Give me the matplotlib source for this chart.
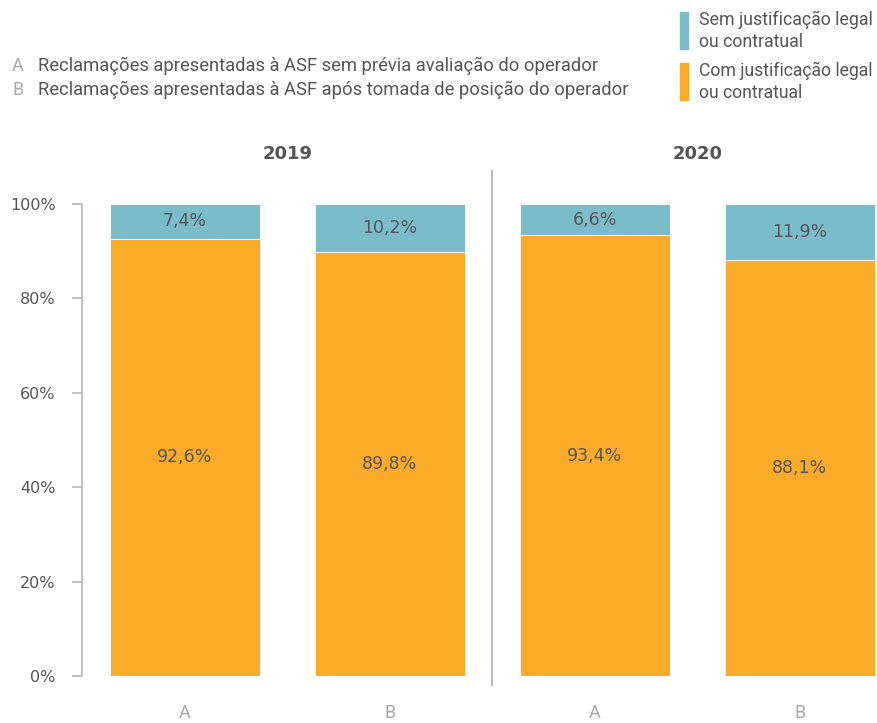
import numpy as np
import matplotlib.pyplot as plt

# Dados
anos = ['2019', '2020']
categorias = ['A', 'B', 'A', 'B']
sem_justificacao = [7.4, 10.2, 6.6, 11.9]
com_justificacao = [92.6, 89.8, 93.4, 88.1]
legenda_ab = ['Reclamações apresentadas à ASF sem prévia avaliação do operador',
              'Reclamações apresentadas à ASF após tomada de posição do operador']
series = ['Sem justificação legal\nou contratual', 'Com justificação legal\nou contratual']

cor_sem = '#7bbccb'
cor_com = '#f9ab29'
cinza_txt = '#555555'
cinza_eixo = '#b5b5b8'
fonte_leg = 'Roboto'

W, H = 877, 723
fig = plt.figure(figsize=(W / 100, H / 100), dpi=100)
ax = fig.add_axes([82 / W, (H - 676) / H, (W - 82) / W, (676 - 204) / H])

x = np.arange(len(categorias))
ax.bar(x, com_justificacao, width=0.73, color=cor_com, edgecolor='white', linewidth=0.6)
ax.bar(x, sem_justificacao, width=0.73, bottom=com_justificacao, color=cor_sem,
       edgecolor='white', linewidth=0.6)

for i in range(len(categorias)):
    ax.text(x[i], com_justificacao[i] / 2, f'{com_justificacao[i]:.1f}%'.replace('.', ','),
            ha='center', va='center', fontsize=12.5, color=cinza_txt)
    ax.text(x[i], com_justificacao[i] + sem_justificacao[i] / 2,
            f'{sem_justificacao[i]:.1f}%'.replace('.', ','),
            ha='center', va='center', fontsize=12.5, color=cinza_txt)

ax.set_xlim(-0.502, 3.376)
ax.set_ylim(0, 100)
ax.set_yticks([0, 20, 40, 60, 80, 100])
ax.set_yticklabels([f'{v}%' for v in [0, 20, 40, 60, 80, 100]])
ax.set_xticks(x)
ax.set_xticklabels(categorias, fontfamily=fonte_leg, fontsize=13, color='#a8a8a8')
ax.tick_params(axis='x', length=0, pad=20)
ax.tick_params(axis='y', length=7, width=1.2, color=cinza_eixo, labelsize=11.5,
               labelcolor=cinza_txt, pad=12)
for s in ['top', 'right', 'bottom']:
    ax.spines[s].set_visible(False)
ax.spines['left'].set_color(cinza_eixo)
ax.spines['left'].set_linewidth(1.2)

# Divisória entre anos
ax.plot([1.5, 1.5], [-2, 107], color=cinza_eixo, linewidth=1.3, clip_on=False)

# Anos
for j, ano in enumerate(anos):
    ax.text(0.5 + 2 * j, 110.5, ano, ha='center', va='center', fontsize=13,
            color=cinza_txt, fontweight='bold')

# Legenda A/B
textos = []
for k, txt in enumerate(legenda_ab):
    yk = 1 - (66 + 24 * k) / H
    fig.text(12 / W, yk, 'AB'[k], fontfamily=fonte_leg, fontsize=13,
             color='#a8a8a8', va='center')
    textos.append(fig.text(38 / W, yk, txt, fontfamily=fonte_leg, fontsize=13,
                           color=cinza_txt, va='center'))

# Legenda de séries
for k, (nome, cor) in enumerate(zip(series, [cor_sem, cor_com])):
    y0 = 12 + 51 * k
    fig.patches.append(plt.Rectangle((680 / W, 1 - (y0 + 37) / H), 8 / W, 37 / H,
                                     transform=fig.transFigure, color=cor))
    textos.append(fig.text(699 / W, 1 - (y0 + 19) / H, nome, fontfamily=fonte_leg,
                           fontsize=13, color=cinza_txt, va='center', linespacing=1.25))

# ajustar o tamanho para caber na largura do original
r = fig.canvas.get_renderer()
largura_alvo = [560, 588, 174, 174]
for t, alvo in zip(textos, largura_alvo):
    w = t.get_window_extent(r).width
    t.set_fontsize(13 * alvo / w)

fig.savefig('out.png', dpi=100)
